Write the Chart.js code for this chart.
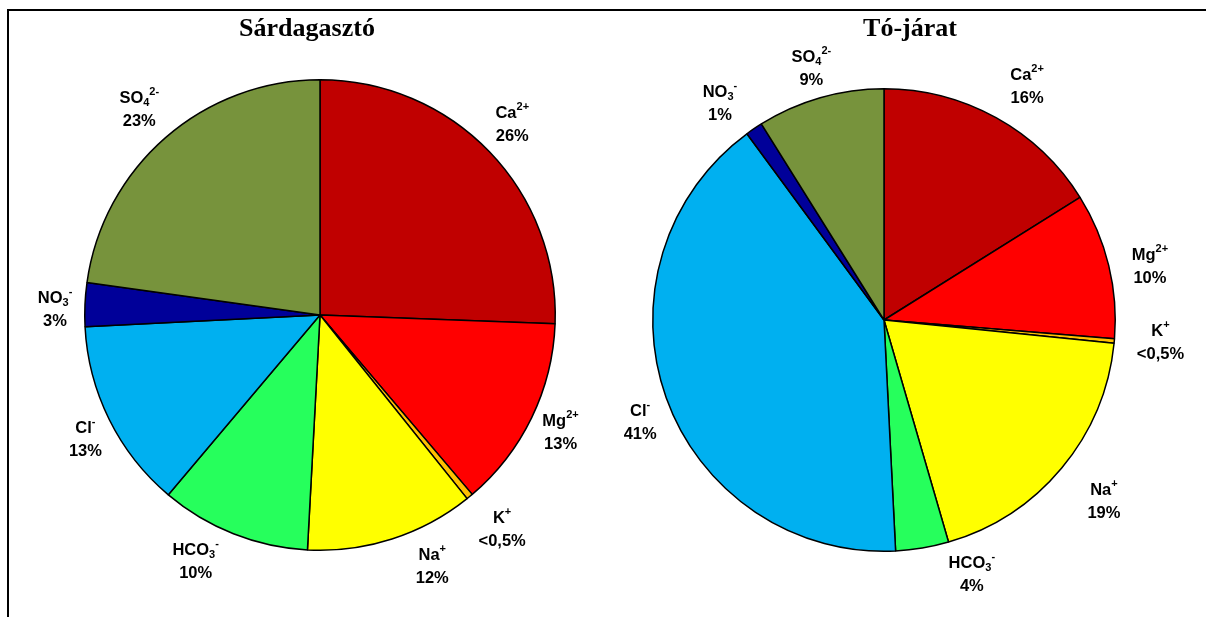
<!DOCTYPE html>
<html>
<head>
<meta charset="utf-8">
<script src="https://cdn.jsdelivr.net/npm/chart.js@4.4.1/dist/chart.umd.min.js"></script>
<style>
  html, body { margin: 0; padding: 0; background: #fff; }
  body { width: 1206px; height: 617px; position: relative; overflow: hidden; }
  #frame { position: absolute; left: 7px; top: 9px; width: 1220px; height: 640px;
           border-top: 2px solid #000; border-left: 2px solid #000; }
  .box { position: absolute; top: 0; height: 617px; }
</style>
</head>
<body>
<div id="frame"></div>
<div class="box" style="left:10px;width:590px"><canvas id="pieSard"></canvas></div>
<div class="box" style="left:600px;width:600px"><canvas id="pieTo"></canvas></div>

<script>
// Ion names: ^{..} = superscript, _{..} = subscript
const ions = ['Ca^{2+}', 'Mg^{2+}', 'K^{+}', 'Na^{+}', 'HCO_{3}^{-}', 'Cl^{-}', 'NO_{3}^{-}', 'SO_{4}^{2-}'];
const ionColors = ['#C00000', '#FF0000', '#FFC000', '#FFFF00', '#26FF5C', '#00B0F0', '#000099', '#77933C'];

// Share of each ion (%), same order as ions
const sardagasztoValues = [25.6, 13.2, 0.45, 11.6, 10.3, 13.05, 3.0, 22.8];
const tojaratValues     = [16.1, 10.2, 0.3, 18.9, 3.7, 40.7, 1.2, 8.9];

const sardagasztoTitle = 'Sárdagasztó';
const tojaratTitle = 'Tó-járat';

// Hand-placed label nudges (px) from the default radial position
const sardagasztoNudge = [[-6, 0], [-7, -3], [7, 2], [28, -11], [-23, -10], [12, 2], [10, 6], [0, 2]];
const tojaratNudge     = [[12, 3], [3, 10], [7, -3], [12, 8], [43, -13], [11, 11], [-12, 7], [2, 8]];

const MAIN_FONT = 'bold 16.5px "Liberation Sans", Arial, sans-serif';
const SMALL_FONT = 'bold 11px "Liberation Sans", Arial, sans-serif';
const TITLE_FONT = 'bold 26px "Liberation Serif", "Times New Roman", serif';

function parseIon(s) {
  const parts = [];
  const re = /(\^|_)\{([^}]*)\}|([^\^_]+)/g;
  let m;
  while ((m = re.exec(s)) !== null) {
    if (m[3]) parts.push({ t: m[3], k: 'n' });
    else parts.push({ t: m[2], k: m[1] === '^' ? 'sup' : 'sub' });
  }
  return parts;
}

function pctText(v, total) {
  const p = v / total * 100;
  return p < 0.5 ? '<0,5%' : Math.round(p) + '%';
}

function drawRich(ctx, parts, cx, baseline) {
  let w = 0;
  parts.forEach(p => { ctx.font = p.k === 'n' ? MAIN_FONT : SMALL_FONT; p.w = ctx.measureText(p.t).width; w += p.w; });
  let x = cx - w / 2;
  ctx.textAlign = 'left';
  ctx.textBaseline = 'alphabetic';
  parts.forEach(p => {
    ctx.font = p.k === 'n' ? MAIN_FONT : SMALL_FONT;
    const dy = p.k === 'sup' ? -8 : (p.k === 'sub' ? 3 : 0);
    ctx.fillText(p.t, x, baseline + dy);
    x += p.w;
  });
}

const sliceLabels = {
  id: 'sliceLabels',
  afterDatasetsDraw(chart, args, opts) {
    const ctx = chart.ctx;
    const ds = chart.data.datasets[0];
    const total = ds.data.reduce((a, b) => a + b, 0);
    const meta = chart.getDatasetMeta(0);
    ctx.save();
    ctx.fillStyle = '#000';
    meta.data.forEach((arc, i) => {
      const { x, y, startAngle, endAngle, outerRadius } = arc.getProps(['x', 'y', 'startAngle', 'endAngle', 'outerRadius'], true);
      const mid = (startAngle + endAngle) / 2;
      const d = outerRadius * 1.17;
      const nudge = opts.nudge[i] || [0, 0];
      const lx = x + Math.cos(mid) * d + nudge[0];
      const ly = y + Math.sin(mid) * d + nudge[1];
      drawRich(ctx, parseIon(chart.data.labels[i]), lx, ly - 6);
      ctx.font = MAIN_FONT;
      ctx.textAlign = 'center';
      ctx.fillText(pctText(ds.data[i], total), lx, ly + 17);
    });
    // chart heading
    ctx.font = TITLE_FONT;
    ctx.textAlign = 'center';
    ctx.textBaseline = 'alphabetic';
    ctx.fillText(opts.text, opts.x, opts.y);
    ctx.restore();
  }
};

function makePie(id, values, title, nudge, padding, titlePos) {
  new Chart(document.getElementById(id), {
    type: 'pie',
    data: {
      labels: ions,
      datasets: [{
        data: values,
        backgroundColor: ionColors,
        borderColor: '#000',
        borderWidth: 1.5
      }]
    },
    options: {
      responsive: true,
      maintainAspectRatio: false,
      animation: false,
      layout: { padding: padding },
      plugins: {
        legend: { display: false },
        tooltip: { enabled: false },
        title: { display: false },
        sliceLabels: { text: title, x: titlePos.x, y: titlePos.y, nudge: nudge }
      }
    },
    plugins: [sliceLabels]
  });
}

makePie('pieSard', sardagasztoValues, sardagasztoTitle, sardagasztoNudge,
  { left: 74, right: 44, top: 79, bottom: 66 }, { x: 297, y: 36 });
makePie('pieTo', tojaratValues, tojaratTitle, tojaratNudge,
  { left: 52, right: 84, top: 88, bottom: 65 }, { x: 310, y: 36 });
</script>
</body>
</html>
